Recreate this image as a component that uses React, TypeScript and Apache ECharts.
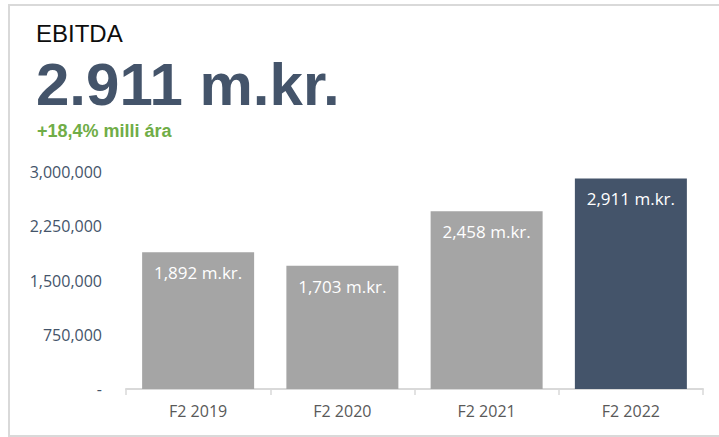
import React, { useEffect, useRef } from "react";
import * as echarts from "echarts";

const categories = ["F2 2019", "F2 2020", "F2 2021", "F2 2022"];
const values = [1892000, 1703000, 2458000, 2911000];
const barColors = ["#a5a5a5", "#a5a5a5", "#a5a5a5", "#44546a"];
const title = "EBITDA";
const headline = "2.911 m.kr.";
const change = "+18,4% milli ára";

export default function App() {
  const ref = useRef<HTMLDivElement>(null);
  useEffect(() => {
    if (!ref.current) return;
    const chart = echarts.init(ref.current, undefined, { renderer: "svg" });
    chart.setOption({
      animation: false,
      backgroundColor: "#ffffff",
      grid: { left: 126, right: 16, top: 172, bottom: 48 },
      xAxis: {
        type: "category",
        data: categories,
        axisLine: { show: true, lineStyle: { color: "#d9d9d9", width: 2 } },
        axisTick: { show: true, length: 6, lineStyle: { color: "#d9d9d9", width: 1.5 } },
        axisLabel: { color: "#595959", fontFamily: "Open Sans", fontSize: 16, margin: 14 },
      },
      yAxis: {
        type: "value",
        min: 0,
        max: 3000000,
        interval: 750000,
        splitLine: { show: false },
        axisLine: { show: false },
        axisTick: { show: false },
        axisLabel: {
          color: "#44546a",
          fontFamily: "Open Sans",
          fontSize: 16,
          margin: 24,
          formatter: (v: number) => (v === 0 ? "-" : v.toLocaleString("en-US")),
        },
      },
      series: [
        {
          type: "bar",
          barWidth: 112,
          data: values.map((v, i) => ({ value: v, itemStyle: { color: barColors[i] } })),
          label: {
            show: true,
            position: "insideTop",
            distance: 12,
            color: "#ffffff",
            fontFamily: "Open Sans",
            fontSize: 17,
            formatter: (p: any) => Math.round(p.value / 1000).toLocaleString("en-US") + " m.kr.",
          },
        },
      ],
      graphic: [
        {
          type: "rect",
          shape: { x: 9, y: 5, width: 716, height: 431 },
          style: { fill: "none", stroke: "#d9d9d9", lineWidth: 2 },
          silent: true,
        },
        {
          type: "text",
          x: 36,
          y: 33.5,
          style: {
            text: title,
            fontFamily: "Liberation Sans",
            fontSize: 24,
            fill: "#0d0d0d",
            verticalAlign: "middle",
          },
        },
        {
          type: "text",
          x: 36,
          y: 84,
          style: {
            text: headline,
            fontFamily: "Liberation Sans",
            fontWeight: "bold",
            fontSize: 60,
            fill: "#44546a",
            verticalAlign: "middle",
          },
        },
        {
          type: "text",
          x: 37,
          y: 130.5,
          style: {
            text: change,
            fontFamily: "Liberation Sans",
            fontWeight: "bold",
            fontSize: 18,
            fill: "#70ad47",
            verticalAlign: "middle",
          },
        },
      ],
    });
    return () => chart.dispose();
  }, []);
  return (
    <div
      ref={ref}
      style={{ position: "absolute", left: 0, top: 0, width: 719, height: 437 }}
    />
  );
}
